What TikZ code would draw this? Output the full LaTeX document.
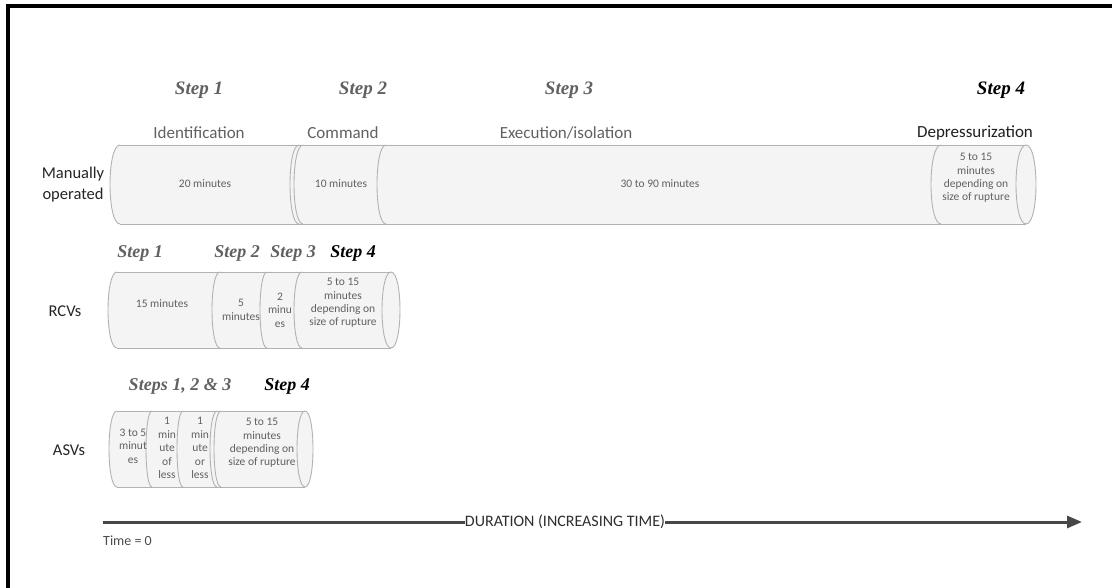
\documentclass[tikz,border=0pt]{standalone}
\usepackage{fontspec}
\setmainfont{Carlito}
\newfontfamily\stepfont{Liberation Serif}
\usetikzlibrary{arrows.meta}
\tikzset{
  cylbg/.style={fill=gray!9},
  cyledge/.style={draw=gray!60, line width=0.9pt},
  steplbl/.style={font={\fontsize{19}{22}\selectfont\stepfont\bfseries\itshape}, text=black!62, inner sep=0pt},
  stepsm/.style={steplbl, font={\fontsize{18}{21}\selectfont\stepfont\bfseries\itshape}},
  stepdark/.style={text=black},
  desc/.style={font={\fontsize{17}{20}\selectfont}, text=black!62, inner sep=0pt},
  rowlbl/.style={font={\fontsize{16.5}{21}\selectfont}, text=black!85, inner sep=0pt, align=center},
  intext/.style={font={\fontsize{11.5}{13.4}\selectfont}, text=black!62, inner sep=0pt, align=center},
  axis/.style={draw=black!72, line width=3pt},
}
\newcommand\cylbody[5]{%
  \fill[cylbg] (#1,#3) -- (#2,#3) .. controls +(1.333*#5,0) and +(1.333*#5,0) .. (#2,#4) -- (#1,#4) .. controls +(-1.333*#5,0) and +(-1.333*#5,0) .. (#1,#3) -- cycle;
  \draw[cyledge] (#1,#3) -- (#2,#3) (#1,#4) -- (#2,#4);
  \draw[cyledge] (#1,#3) .. controls +(-1.333*#5,0) and +(-1.333*#5,0) .. (#1,#4);
  \draw[cyledge] (#2,#3) .. controls +(1.333*#5,0) and +(1.333*#5,0) .. (#2,#4) .. controls +(-1.333*#5,0) and +(-1.333*#5,0) .. (#2,#3);
}
\newcommand\cyldiv[4]{\draw[cyledge] (#1,#2) .. controls +(-1.333*#4,0) and +(-1.333*#4,0) .. (#1,#3);}
\begin{document}
\begin{tikzpicture}[x=1pt,y=-1pt]
\useasboundingbox (0,0) rectangle (1112,588);
\fill[white] (0,0) rectangle (1112,588);
% frame
\draw[line width=4pt] (8,588) -- (8,6.5) -- (1112,6.5);

% ---------- Row 1: manually operated
\cylbody{120}{1026}{145}{224}{10}
\cyldiv{299}{145}{224}{9}
\cyldiv{303}{145}{224}{9}
\cyldiv{386}{145}{224}{9}
\cyldiv{941}{145}{224}{10}
\node[steplbl] (m1) at (199,90) {Step 1};
\node[steplbl] (m2) at (363,90) {Step 2};
\node[steplbl] (m3) at (569,90) {Step 3};
\node[steplbl,stepdark] (m4) at (1001,90) {Step 4};
\node[desc] (d1) at (199,133) {Identification};
\node[desc] (d2) at (343,133) {Command};
\node[desc] (d3) at (566,133) {Execution/isolation};
\node[desc,text=black!88] (d4) at (975,133) {Depressurization};
\node[rowlbl] (rman) at (73,185) {Manually\\operated};
\node[intext] (t11) at (205,184) {20 minutes};
\node[intext] (t12) at (341,184) {10 minutes};
\node[intext] (t13) at (660,184) {30 to 90 minutes};
\node[intext] (t14) at (976,178) {5 to 15\\minutes\\depending on\\size of rupture};

% ---------- Row 2: RCVs
\cylbody{117}{391}{272}{348}{9}
\cyldiv{220}{272}{348}{8}
\cyldiv{267}{272}{348}{7}
\cyldiv{302}{272}{348}{8}
\node[stepsm] (r1) at (140,253) {Step 1};
\node[stepsm] (r2) at (237,253) {Step 2};
\node[stepsm] (r3) at (293,253) {Step 3};
\node[stepsm,stepdark] (r4) at (353,253) {Step 4};
\node[rowlbl] (rrcv) at (65,311) {RCVs};
\node[intext] (t21) at (162,304) {15 minutes};
\node[intext] (t22) at (241,310) {5\\minutes};
\node[intext] (t23) at (280,310) {2\\minu\\es};
\node[intext] (t24) at (343,303) {5 to 15\\minutes\\depending on\\size of rupture};

% ---------- Row 3: ASVs
\cylbody{117}{305}{411}{487}{8}
\cyldiv{152}{411}{487}{6}
\cyldiv{183}{411}{487}{6}
\cyldiv{217}{411}{487}{7}
\cyldiv{221}{411}{487}{7}
\node[stepsm] (a1) at (180,386) {Steps 1, 2 \& 3};
\node[stepsm,stepdark] (a4) at (287,386) {Step 4};
\node[rowlbl] (rasv) at (69,450) {ASVs};
\node[intext] (t31) at (133,446) {3 to 5\\minut\\es};
\node[intext] (t32) at (167,448) {1\\min\\ute\\of\\less};
\node[intext] (t33) at (200,448) {1\\min\\ute\\or\\less};
\node[intext] (t34) at (262,443) {5 to 15\\minutes\\depending on\\size of rupture};

% ---------- Duration axis
\coordinate (ax0) at (103,522);
\coordinate (ax1) at (1082,522);
\node[font={\fontsize{16}{19}\selectfont}, text=black!82, inner sep=0pt] (dur) at (565,522) {DURATION (INCREASING TIME)};
\draw[axis] (ax0) -- (dur.west);
\draw[axis, -{Triangle[length=15pt,width=12pt]}] (dur.east) -- (ax1);
\node[font={\fontsize{14}{16}\selectfont}, text=black!70, inner sep=0pt, anchor=west] (t0) at (103,541) {Time = 0};
\end{tikzpicture}
\end{document}
